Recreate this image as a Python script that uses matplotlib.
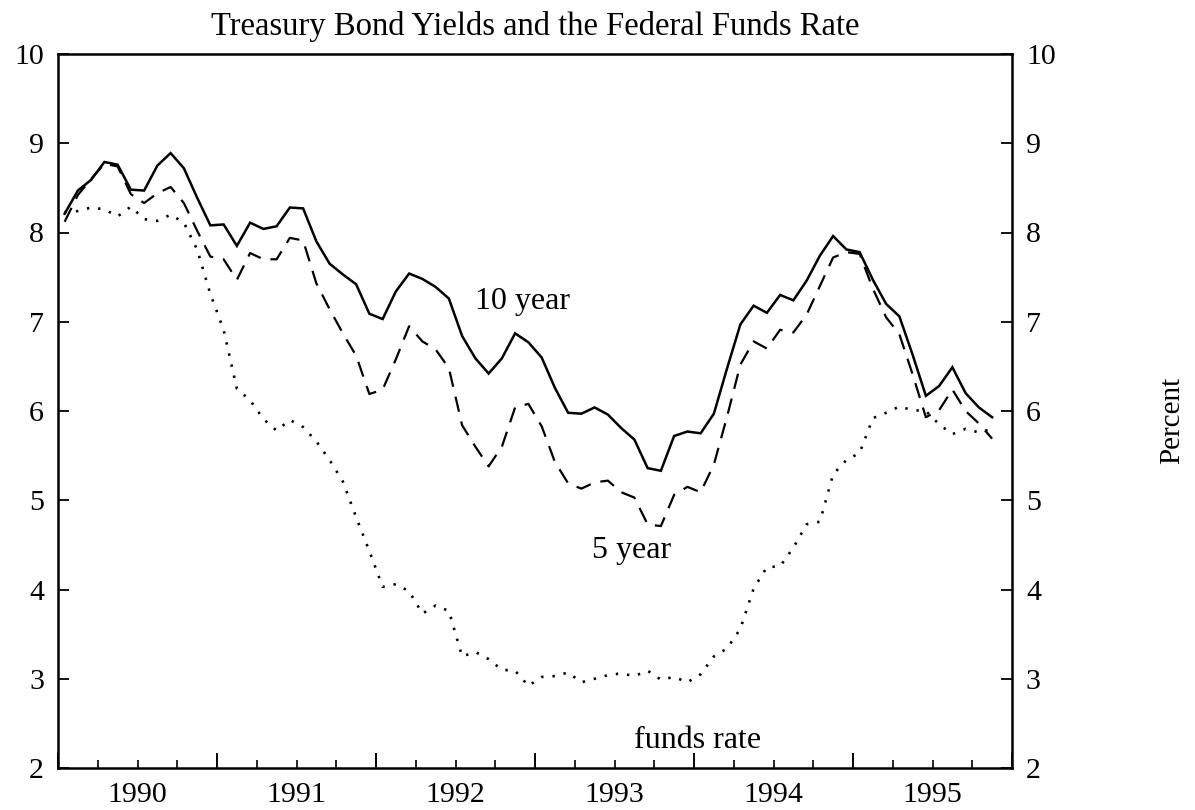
import matplotlib
matplotlib.use("Agg")
import matplotlib.pyplot as plt
import numpy as np

plt.rcParams['font.family'] = ['Liberation Serif', 'DejaVu Serif']

# Monthly data, Jan 1990 - Nov 1995
start_year = 1990
ten_year = [8.21, 8.47, 8.59, 8.79, 8.76, 8.48, 8.47, 8.75, 8.89, 8.72, 8.39, 8.08,
            8.09, 7.85, 8.11, 8.04, 8.07, 8.28, 8.27, 7.90, 7.65, 7.53, 7.42, 7.09,
            7.03, 7.34, 7.54, 7.48, 7.39, 7.26, 6.84, 6.59, 6.42, 6.59, 6.87, 6.77,
            6.60, 6.26, 5.98, 5.97, 6.04, 5.96, 5.81, 5.68, 5.36, 5.33, 5.72, 5.77,
            5.75, 5.97, 6.48, 6.97, 7.18, 7.10, 7.30, 7.24, 7.46, 7.74, 7.96, 7.81,
            7.78, 7.47, 7.20, 7.06, 6.63, 6.17, 6.28, 6.49, 6.20, 6.04, 5.93]
five_year = [8.12, 8.42, 8.60, 8.77, 8.74, 8.43, 8.33, 8.44, 8.51, 8.33, 8.02, 7.73,
             7.70, 7.47, 7.77, 7.70, 7.70, 7.94, 7.91, 7.43, 7.14, 6.87, 6.62, 6.19,
             6.24, 6.58, 6.95, 6.78, 6.69, 6.48, 5.84, 5.60, 5.38, 5.60, 6.04, 6.08,
             5.83, 5.43, 5.19, 5.13, 5.20, 5.22, 5.09, 5.03, 4.73, 4.71, 5.06, 5.15,
             5.09, 5.40, 5.94, 6.52, 6.78, 6.70, 6.91, 6.88, 7.08, 7.40, 7.72, 7.78,
             7.76, 7.37, 7.05, 6.86, 6.41, 5.93, 6.01, 6.24, 6.00, 5.86, 5.69]
funds_rate = [8.23, 8.24, 8.28, 8.26, 8.18, 8.29, 8.15, 8.13, 8.20, 8.11, 7.81, 7.31,
              6.91, 6.25, 6.12, 5.91, 5.78, 5.90, 5.82, 5.66, 5.45, 5.21, 4.81, 4.43,
              4.03, 4.06, 3.98, 3.73, 3.82, 3.76, 3.25, 3.30, 3.22, 3.10, 3.09, 2.92,
              3.02, 3.03, 3.07, 2.96, 3.00, 3.04, 3.06, 3.03, 3.09, 2.99, 3.02, 2.96,
              3.05, 3.25, 3.34, 3.56, 4.01, 4.25, 4.26, 4.47, 4.73, 4.76, 5.29, 5.45,
              5.53, 5.92, 5.98, 6.05, 6.01, 6.00, 5.85, 5.74, 5.80, 5.76, 5.80]
year_labels = ['1990', '1991', '1992', '1993', '1994', '1995']
y_ticks = [2, 3, 4, 5, 6, 7, 8, 9, 10]

months = np.arange(len(ten_year))
t = start_year + (months + 0.5) / 12.0

fig = plt.figure(figsize=(11.95, 8.10), dpi=100)
ax = fig.add_axes([58/1195, 1 - 768/810, (1012-58)/1195, (768-54)/810])

ax.plot(t, ten_year, color='black', lw=1.8, solid_joinstyle='miter')
ax.plot(t, five_year, color='black', lw=1.6, dashes=(7, 4.5))
ax.plot(t, funds_rate, color='black', lw=1.9, dashes=(0.9, 3.4))

ax.set_xlim(1990, 1996)
ax.set_ylim(2, 10)

# year boundary ticks (long) + quarter ticks (short)
ax.set_xticks(np.arange(1990, 1997))
ax.set_xticklabels([])
ax.set_xticks(np.arange(1990, 1996.01, 0.25), minor=True)
ax.tick_params(axis='x', which='major', direction='in', length=11, width=1.4, top=False)
ax.tick_params(axis='x', which='minor', direction='in', length=6, width=1.2, top=False)

# year labels at mid-year
sec = ax.secondary_xaxis('bottom')
sec.set_xticks([int(y) + 0.5 for y in year_labels])
sec.set_xticklabels(year_labels, fontsize=21.5)
sec.tick_params(length=0, pad=10)
sec.spines['bottom'].set_visible(False)

ax.set_yticks(y_ticks)
ax.set_yticklabels([str(v) for v in y_ticks], fontsize=21.5)
ax.tick_params(axis='y', which='major', direction='in', length=8, width=1.3,
               left=True, right=True, labelleft=True, labelright=True, pad=10)

for s in ax.spines.values():
    s.set_linewidth(1.8)

ax.set_title('Treasury Bond Yields and the Federal Funds Rate', fontsize=23.5, pad=14)

ax.text(1992.92, 7.23, '10 year', fontsize=23, ha='center', va='center')
ax.text(1993.61, 4.44, '5 year', fontsize=23, ha='center', va='center')
ax.text(1994.02, 2.31, 'funds rate', fontsize=23, ha='center', va='center')

fig.text(1172/1195, 1 - 420/810, 'Percent', rotation=90, fontsize=21,
         ha='center', va='center')

fig.savefig('out.png', dpi=100)
